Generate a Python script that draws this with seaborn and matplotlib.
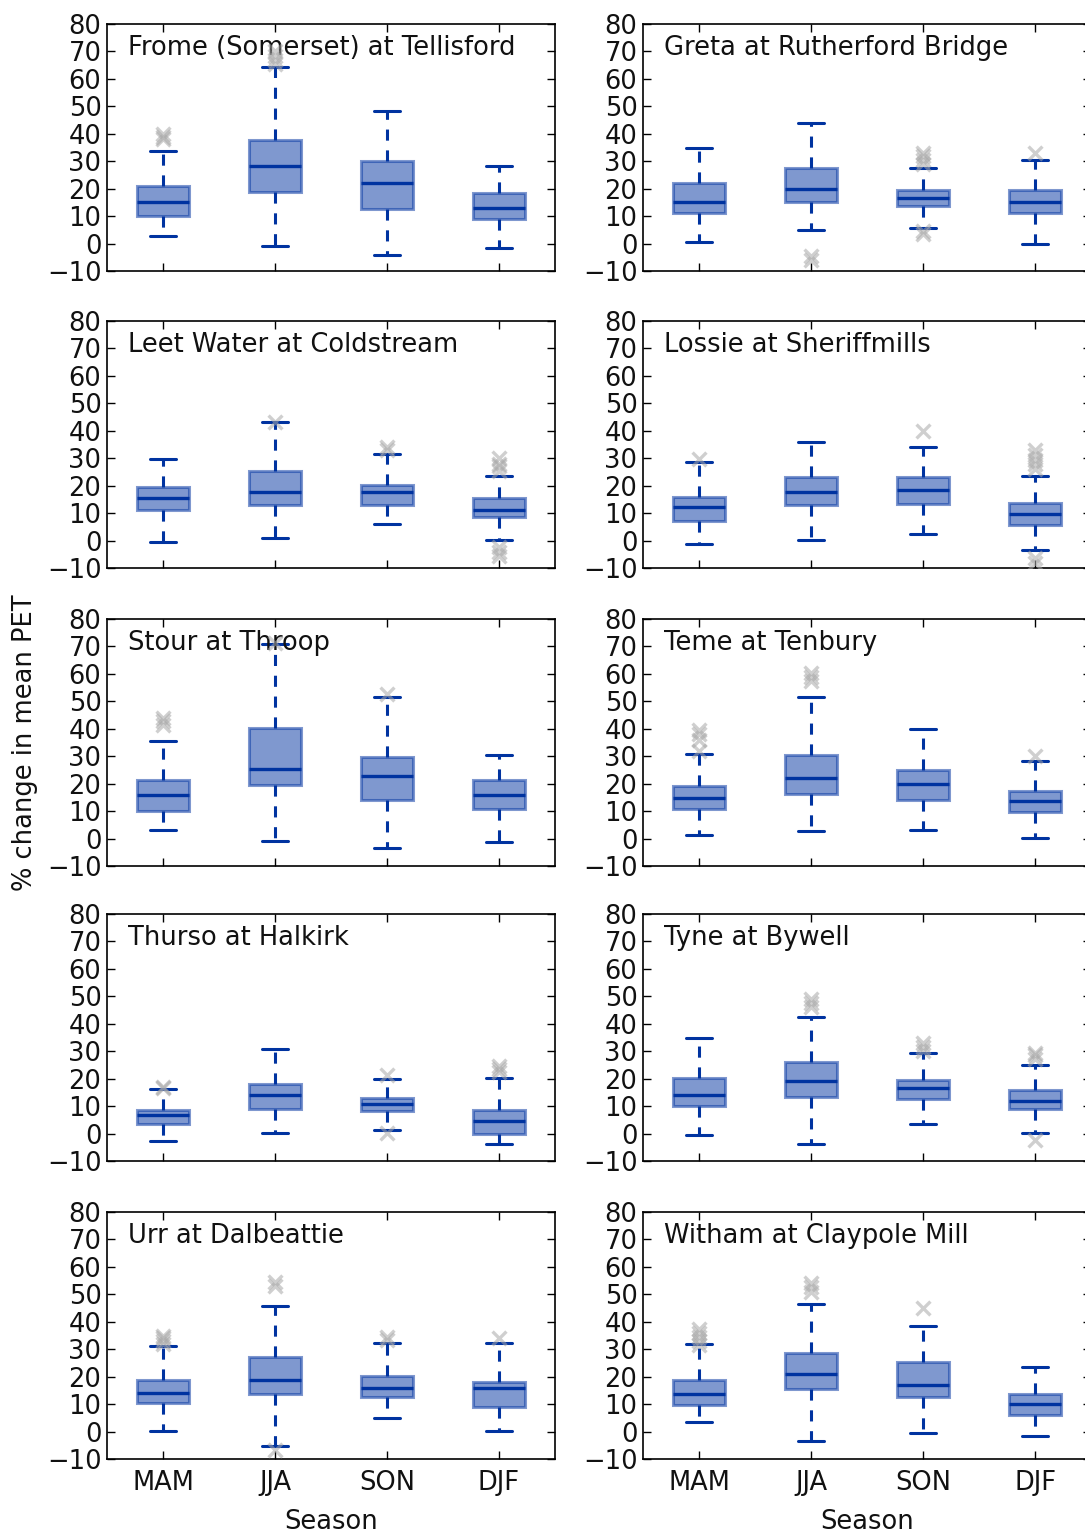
import numpy as np
import pandas as pd
import matplotlib
matplotlib.use("Agg")
import matplotlib.pyplot as plt
import seaborn as sns

SEASONS = ["MAM", "JJA", "SON", "DJF"]

STATIONS = [
    "Frome (Somerset) at Tellisford", "Greta at Rutherford Bridge",
    "Leet Water at Coldstream", "Lossie at Sheriffmills",
    "Stour at Throop", "Teme at Tenbury",
    "Thurso at Halkirk", "Tyne at Bywell",
    "Urr at Dalbeattie", "Witham at Claypole Mill",
]

# Box-plot summaries per station, one value per season (MAM, JJA, SON, DJF)
WHISKER_LOW = [
    [2.9, -0.8, -4.2, -1.6],
    [0.6, 5.1, 5.7, 0.0],
    [-0.4, 0.8, 5.9, 0.1],
    [-1.3, 0.1, 2.5, -3.6],
    [3.0, -0.8, -3.6, -1.2],
    [1.4, 2.7, 3.1, 0.2],
    [-2.7, 0.1, 1.3, -3.7],
    [-0.4, -3.7, 3.4, 0.1],
    [0.2, -5.2, 4.8, 0.2],
    [3.6, -3.5, -0.6, -1.8],
]
Q1 = [
    [10.0, 18.9, 12.6, 8.8],
    [11.2, 15.2, 13.7, 11.0],
    [11.3, 13.0, 13.0, 8.6],
    [7.3, 12.8, 13.4, 5.8],
    [10.2, 19.6, 13.9, 10.6],
    [10.6, 16.3, 14.1, 9.6],
    [3.4, 9.0, 8.4, 0.0],
    [10.0, 13.3, 12.7, 8.8],
    [10.3, 13.7, 12.5, 9.1],
    [9.8, 15.5, 12.7, 6.0],
]
MEDIAN = [
    [15.3, 28.2, 21.9, 13.1],
    [15.2, 19.8, 16.5, 15.2],
    [15.4, 17.6, 17.6, 11.0],
    [12.2, 17.6, 18.6, 9.8],
    [15.9, 25.3, 22.7, 15.9],
    [14.8, 22.0, 19.9, 13.6],
    [6.9, 14.1, 10.7, 4.7],
    [14.1, 19.0, 16.5, 11.8],
    [13.9, 18.7, 16.0, 16.0],
    [13.7, 20.9, 16.9, 9.9],
]
Q3 = [
    [21.0, 37.7, 30.2, 18.5],
    [22.0, 27.7, 19.5, 19.5],
    [19.6, 25.4, 20.4, 15.4],
    [15.8, 23.0, 23.0, 13.6],
    [21.3, 40.4, 29.8, 21.3],
    [19.3, 30.4, 24.9, 17.5],
    [8.7, 18.0, 12.9, 8.6],
    [20.2, 25.9, 19.6, 15.7],
    [18.7, 27.0, 20.3, 18.1],
    [18.7, 28.7, 25.3, 13.6],
]
WHISKER_HIGH = [
    [33.8, 64.4, 48.4, 28.2],
    [35.0, 44.0, 27.7, 30.5],
    [29.8, 43.1, 31.4, 23.6],
    [28.7, 35.9, 34.2, 23.6],
    [35.5, 70.8, 51.4, 30.4],
    [30.8, 51.4, 39.8, 28.1],
    [16.4, 30.7, 19.8, 20.2],
    [34.7, 42.4, 29.5, 25.1],
    [31.1, 45.6, 32.3, 32.3],
    [32.0, 46.4, 38.6, 23.6],
]
OUTLIERS = [
    [[38.0, 39.0, 40.0], [65.5, 67.0, 68.5, 70.0], [], []],
    [[], [-4.5, -6.0], [3.5, 4.5, 29.0, 30.5, 32.0, 33.0], [33.0]],
    [[], [43.2], [33.0, 34.2], [-5.5, -4.0, -2.5, 25.5, 27.0, 28.0, 30.0]],
    [[29.8], [], [39.9], [-8.0, -6.5, 26.0, 28.0, 29.5, 31.0, 33.0]],
    [[41.5, 43.0, 44.0], [71.2], [52.6], []],
    [[31.8, 36.0, 38.0, 39.5], [57.5, 59.0, 60.5], [], [30.0]],
    [[16.5, 17.0], [], [0.2, 21.5], [22.5, 23.5, 24.5]],
    [[], [46.0, 47.5, 49.0], [30.0, 31.5, 33.0], [-2.4, 27.0, 28.5, 29.5]],
    [[31.8, 33.0, 34.0, 35.0], [-6.6, 53.0, 54.5], [33.5, 34.5], [34.1]],
    [[31.5, 33.0, 34.5, 36.0, 37.5], [51.0, 52.5, 54.0], [45.0], []],
]

Y_TICKS = list(range(-10, 81, 10))

sns.set_style("ticks")
FS = 18.5
plt.rcParams.update({
    "font.family": ["DejaVu Sans"],
    "font.size": FS,
    "text.color": "#111111",
    "axes.labelcolor": "#111111",
    "xtick.direction": "in",
    "ytick.direction": "in",
    "xtick.top": True,
    "ytick.right": True,
    "xtick.major.size": 6,
    "ytick.major.size": 6,
    "xtick.major.width": 1.0,
    "ytick.major.width": 1.0,
    "xtick.color": "black",
    "ytick.color": "black",
    "xtick.labelcolor": "#111111",
    "ytick.labelcolor": "#111111",
    "axes.edgecolor": "black",
    "axes.linewidth": 1.2,
    "lines.scale_dashes": False,
})

BLUE = "#0033a0"
FILL = (0.0, 0.2, 0.63, 0.5)

fig = plt.figure(figsize=(10.85, 15.35), dpi=100)
W, H = 1085, 1535
col_left = [107, 643]
row_top = [24, 321, 619, 914, 1212]
ax_w, ax_h = 448, 247

for i, name in enumerate(STATIONS):
    r, c = divmod(i, 2)
    ax = fig.add_axes([col_left[c] / W, 1 - (row_top[r] + ax_h) / H, ax_w / W, ax_h / H])

    # five-number summary per season as a long table
    summary = pd.DataFrame({
        "season": np.repeat(SEASONS, 5),
        "value": np.column_stack([WHISKER_LOW[i], Q1[i], MEDIAN[i], Q3[i], WHISKER_HIGH[i]]).ravel(),
    })
    sns.boxplot(
        data=summary, x="season", y="value", order=SEASONS, ax=ax,
        whis=(0, 100), width=0.46, showfliers=False, fill=True,
        boxprops=dict(facecolor=FILL, edgecolor=FILL, linewidth=2.2),
        medianprops=dict(color=BLUE, linewidth=2.4),
        whiskerprops=dict(color=BLUE, linewidth=2.2, linestyle=(0, (8, 7))),
        capprops=dict(color=BLUE, linewidth=2.2),
    )

    out = pd.DataFrame({
        "season": [s for s, vals in zip(SEASONS, OUTLIERS[i]) for _ in vals],
        "value": [v for vals in OUTLIERS[i] for v in vals],
    })
    sns.stripplot(
        data=out, x="season", y="value", order=SEASONS, ax=ax,
        jitter=False, marker="x", size=10, linewidth=2.4,
        color="#a8a8a8", alpha=0.55, zorder=4,
    )

    ax.set_xlim(-0.5, 3.5)
    ax.set_ylim(-10, 80)
    ax.set_yticks(Y_TICKS)
    ax.tick_params(axis="y", labelsize=FS, pad=4)
    ax.tick_params(axis="x", labelsize=FS, pad=8)
    ax.text(0.047, 0.955, name, transform=ax.transAxes, ha="left", va="top",
            fontsize=FS, color="#111111")
    ax.set_ylabel("")
    ax.set_xticks(range(4))
    if r == 4:
        ax.set_xlabel("Season", fontsize=FS, labelpad=9)
        ax.set_xticklabels(SEASONS)
    else:
        ax.set_xlabel("")
        ax.set_xticklabels([])
    if r == 2 and c == 0:
        ax.set_ylabel("% change in mean PET", fontsize=FS, labelpad=6)
    for sp in ax.spines.values():
        sp.set_visible(True)

fig.savefig("out.png", dpi=100)
